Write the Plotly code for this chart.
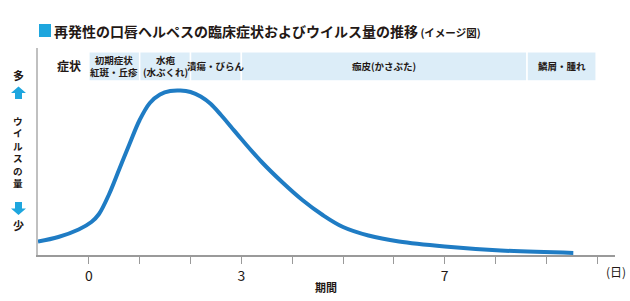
import plotly.graph_objects as go

# ---- data ----
days = [-1.0, -0.6, -0.2, 0.05, 0.2, 0.4, 0.6, 0.8, 1.0, 1.2, 1.4, 1.6, 1.8, 2.0, 2.2,
        2.4, 2.6, 2.8, 3.0, 3.4, 3.8, 4.2, 4.6, 5.0, 5.5, 6.1, 7.0, 8.1, 9.53]
virus_level = [13.5, 18, 25.5, 33, 41, 61, 86, 111, 135, 152, 160.5, 164, 164.5, 163, 158.5,
               151, 140, 128, 116, 93, 73, 55, 40, 28, 19.5, 13.5, 8.5, 4.5, 2]

stage_labels = ["初期症状<br>紅斑・丘疹", "水疱<br>(水ぶくれ)", "潰瘍・びらん", "痂皮(かさぶた)", "鱗屑・腫れ"]
stage_start = [0, 1, 2, 3, 8.62]
stage_end = [1, 2, 3, 8.62, 9.98]

tick_vals = list(range(0, 11))
tick_text = ["0", "", "", "3", "", "", "", "7", "", "", ""]

title_main = "再発性の口唇ヘルペスの臨床症状およびウイルス量の推移"
title_sub = "(イメージ図)"
y_label_chars = ["ウ", "イ", "ル", "ス", "の", "量"]

FONT = "Noto Sans CJK JP"
LINE_BLUE = "#1f7cc4"
CYAN = "#1ea6de"
CELL_BG = "#dcedf8"
TEXT = "#231815"

W, H = 630, 301
L, R, T, B = 38, 15, 48, 46
PW = W - L - R
PH = H - T - B


def px(xp):
    return (xp - L) / PW


def py(yp):
    return (H - B - yp) / PH


def note(x, y, text, size, xanchor="center", bold=True):
    return dict(x=px(x), y=py(y), xref="paper", yref="paper", xanchor=xanchor, yanchor="middle",
                text=("<b>" + text + "</b>") if bold else text, showarrow=False,
                font=dict(family=FONT, size=size, color=TEXT))


fig = go.Figure()
fig.add_trace(go.Scatter(x=days, y=virus_level, mode="lines",
                         line=dict(color=LINE_BLUE, width=4, shape="spline", smoothing=1.0),
                         hoverinfo="skip", showlegend=False))

shapes = []
annotations = []

# symptom table
cell_y0, cell_y1 = 174, 203.3
for s, e, lab in zip(stage_start, stage_end, stage_labels):
    shapes.append(dict(type="rect", xref="x", yref="y", x0=s, x1=e, y0=cell_y0, y1=cell_y1,
                       fillcolor=CELL_BG, line=dict(color="white", width=1.5), layer="below"))
    annotations.append(dict(x=(s + e) / 2, y=(cell_y0 + cell_y1) / 2, xref="x", yref="y",
                            xanchor="center", yanchor="middle",
                            text="<b>" + lab + "</b>", showarrow=False,
                            font=dict(family=FONT, size=9.5, color=TEXT)))
annotations.append(dict(x=-0.4, y=(cell_y0 + cell_y1) / 2 + 1, xref="x", yref="y",
                        xanchor="center", yanchor="middle",
                        text="<b>症状</b>", showarrow=False,
                        font=dict(family=FONT, size=12, color=TEXT)))

# title
shapes.append(dict(type="rect", xref="paper", yref="paper", x0=px(39), x1=px(51), y0=py(37), y1=py(24),
                   fillcolor=CYAN, line=dict(width=0)))
annotations.append(dict(x=px(52), y=py(30.5), xref="paper", yref="paper", xanchor="left", yanchor="middle",
                        text="<b>" + title_main + "</b><span style='font-size:10.5px'><b> " + title_sub + "</b></span>",
                        showarrow=False, font=dict(family=FONT, size=14, color=TEXT)))

# y side labels
annotations.append(note(18, 75, "多", 11))
annotations.append(note(18, 225, "少", 11))
annotations.append(note(18, 151.5, "<br>".join(y_label_chars), 9.6))


def arrow_path(cx, tip, base, up=True):
    hw, sw = 7.5, 3.5
    neck = tip + 6.5 if up else tip - 6.5
    pts = [(cx, tip), (cx + hw, neck), (cx + sw, neck), (cx + sw, base), (cx - sw, base), (cx - sw, neck), (cx - hw, neck)]
    return "M " + " L ".join(f"{px(a):.5f},{py(b):.5f}" for a, b in pts) + " Z"


shapes.append(dict(type="path", xref="paper", yref="paper", path=arrow_path(18.5, 86.5, 99, True),
                   fillcolor=CYAN, line=dict(width=0)))
shapes.append(dict(type="path", xref="paper", yref="paper", path=arrow_path(18.5, 215, 202, False),
                   fillcolor=CYAN, line=dict(width=0)))

# axis titles
annotations.append(note(326, 287, "期間", 11))
annotations.append(note(616, 271, "(日)", 12, bold=False))

fig.update_layout(
    width=W, height=H,
    margin=dict(l=L, r=R, t=T, b=B),
    paper_bgcolor="white", plot_bgcolor="white",
    xaxis=dict(range=[-1.0, 10.35], showgrid=False, zeroline=False, showline=True,
               linecolor="#9a9a9a", linewidth=1.5, ticks="outside", ticklen=7, tickwidth=1,
               tickcolor="#9a9a9a", tickvals=tick_vals, ticktext=tick_text,
               tickfont=dict(family=FONT, size=14, color=TEXT), fixedrange=True),
    yaxis=dict(range=[0, PH], showgrid=False, zeroline=False, showline=True,
               linecolor="#c0c0c0", linewidth=2, showticklabels=False, ticks="", fixedrange=True),
    shapes=shapes, annotations=annotations,
)

fig.write_html("out.html", config={"displayModeBar": False})
